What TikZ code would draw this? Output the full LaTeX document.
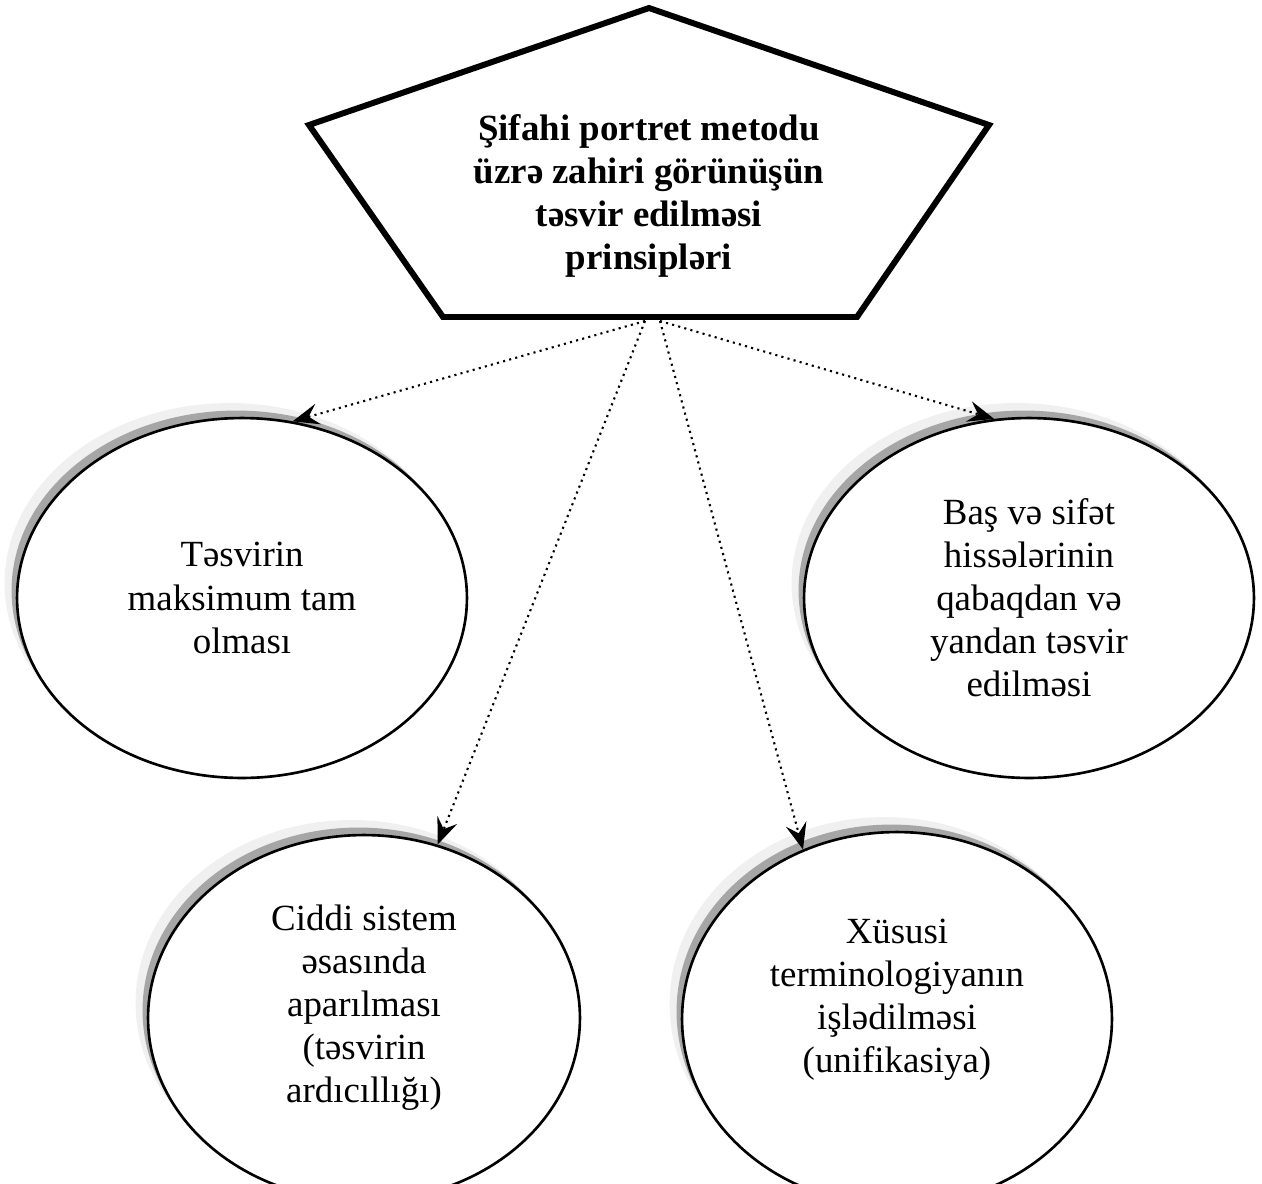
\documentclass[tikz,border=0pt]{standalone}
\usepackage{fontspec}
\setmainfont{Liberation Serif}
\usepackage{tikz}
\usetikzlibrary{shapes.geometric, arrows.meta, shadows, positioning}

\begin{document}
\begin{tikzpicture}[
    x=0.02cm, y=-0.02cm,
    oval/.style 2 args = {
        ellipse,
        draw=black,
        line width=1.5pt,
        fill=white,
        minimum width=#1,
        minimum height=#2,
        inner sep=0pt,
        align=center,
        font=\fontsize{21}{24.5}\selectfont,
        general shadow={fill=black!6, shadow xshift=-0.25cm, shadow yshift=0.30cm},
        general shadow={fill=black!35, shadow xshift=-0.11cm, shadow yshift=0.15cm}
    },
    link/.style = {
        -{Stealth[length=15pt, width=12pt, inset=5.5pt]},
        line width=1.2pt,
        dash pattern=on 1.2pt off 2.4pt
    }
]
\useasboundingbox (0,0) rectangle (1262,1184);

% head pentagon
\coordinate (pTop) at (649,8);
\coordinate (pLeft) at (309,125);
\coordinate (pRight) at (989,125);
\coordinate (pBotL) at (443,317);
\coordinate (pBotR) at (857,317);
\draw[line width=3.4pt, line join=miter] (pTop) -- (pRight) -- (pBotR) -- (pBotL) -- (pLeft) -- cycle;

\node [align=center, font=\fontsize{21}{24.5}\selectfont\bfseries] (head) at (649,196)
    {Şifahi portret metodu\\üzrə zahiri görünüşün\\təsvir edilməsi\\prinsipləri};

\coordinate (baseL) at (645,321);
\coordinate (baseR) at (660,321);

% principles
\node [oval={9cm}{7.2cm}] (e1) at (242,598)
    {Təsvirin\\maksimum tam\\olması};
\node [oval={9cm}{7.2cm}] (e2) at (1029,598)
    {Baş və sifət\\hissələrinin\\qabaqdan və\\yandan təsvir\\edilməsi};
\node [oval={8.64cm}{7.32cm}, text depth=16pt] (e3) at (364,1018)
    {Ciddi sistem\\əsasında\\aparılması\\(təsvirin\\ardıcıllığı)};
\node [oval={8.6cm}{7.48cm}, text depth=26pt] (e4) at (897,1019)
    {Xüsusi\\terminologiyanın\\işlədilməsi\\(unifikasiya)};

\draw[link] (baseL) -- (e1.74);
\draw[link] (baseR) -- (e2.101);
\draw[link] (baseL) -- (e3.67);
\draw[link] (baseR) -- (e4.119);

\end{tikzpicture}
\end{document}
